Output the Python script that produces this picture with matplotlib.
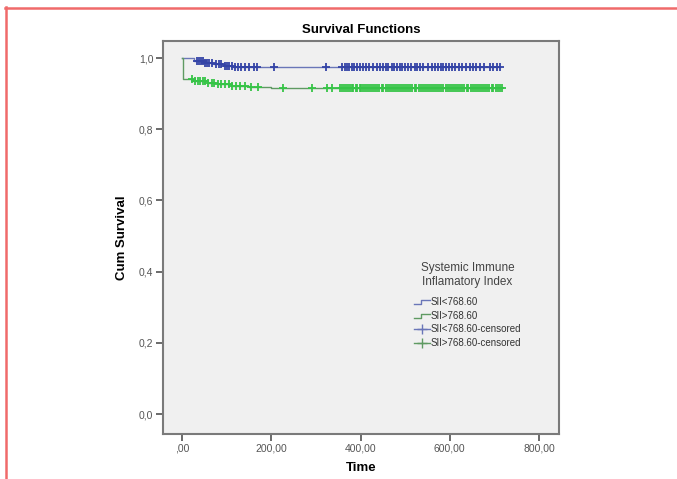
import numpy as np
import matplotlib
matplotlib.use('Agg')
import matplotlib.pyplot as plt
from matplotlib.lines import Line2D
from matplotlib.legend_handler import HandlerBase

plt.rcParams['font.family'] = ['Liberation Sans', 'DejaVu Sans']

# -------------------------- data --------------------------
# step curves (event time, cumulative survival after the event)
low_times = [0, 27, 50, 72, 95, 115]
low_surv = [1.0, 0.991, 0.987, 0.982, 0.979, 0.976]
high_times = [0, 2, 25, 55, 80, 110, 150, 200]
high_surv = [1.0, 0.941, 0.936, 0.931, 0.927, 0.922, 0.918, 0.915]
low_end = 712
high_end = 718

low_censored = [33, 38, 42, 47, 52, 56, 60, 66, 75, 82, 88, 95, 100, 106, 112, 118,
                125, 132, 140, 150, 160, 168, 205, 323,
                359, 364, 369, 374, 380, 386, 393, 399, 405, 412, 418, 428, 437, 444,
                450, 456, 462, 470, 476, 482, 488, 494, 500, 507, 514, 521, 527, 533,
                540, 552, 560, 566, 573, 580, 586, 592, 598, 606, 612, 620, 627, 636,
                645, 652, 660, 668, 676, 690, 698, 705, 712]
high_censored = [22, 28, 35, 40, 46, 52, 58, 66, 72, 80, 88, 95, 104, 112, 120, 130,
                 140, 155, 170, 227, 291, 325, 335,
                 355, 359, 363, 367, 371, 376, 380, 384, 389, 393, 398, 402, 406, 411,
                 415, 420, 424, 428, 433, 437, 442, 447, 451, 456, 461, 465, 470, 474,
                 479, 484, 488, 493, 497, 502, 507, 511, 516, 521, 525, 530, 535, 539,
                 544, 549, 553, 558, 563, 567, 572, 577, 581, 586, 591, 595, 600, 605,
                 609, 614, 619, 624, 628, 633, 638, 642, 647, 652, 656, 661, 666, 670,
                 675, 680, 684, 689, 694, 698, 703, 708, 713, 718]

x_ticks = [0, 200, 400, 600, 800]
x_tick_labels = [',00', '200,00', '400,00', '600,00', '800,00']
y_ticks = [0.0, 0.2, 0.4, 0.6, 0.8, 1.0]
y_tick_labels = ['0,0', '0,2', '0,4', '0,6', '0,8', '1,0']
legend_labels = ['SII<768.60', 'SII>768.60', 'SII<768.60-censored', 'SII>768.60-censored']
legend_title = 'Systemic Immune\nInflamatory Index'

BLUE_LINE = '#6a76b8'
BLUE_MARK = '#3444a6'
GREEN_LINE = '#5f9a62'
GREEN_MARK = '#36c447'


def _surv_at(times, surv, t):
    idx = np.searchsorted(np.array(times, dtype=float), np.array(t, dtype=float), side='right') - 1
    return np.array(surv)[idx]


class StepHandler(HandlerBase):
    """legend glyph drawn as a small step, like SPSS"""
    def __init__(self, color):
        super().__init__()
        self.color = color

    def create_artists(self, legend, orig_handle, xdescent, ydescent, width, height, fontsize, trans):
        x0, x1 = -xdescent, -xdescent + width
        xm = x0 + width * 0.45
        ylo = -ydescent + height * 0.2
        yhi = -ydescent + height * 0.75
        line = Line2D([x0, xm, xm, x1], [ylo, ylo, yhi, yhi], color=self.color, lw=1.0, transform=trans)
        return [line]


fig = plt.figure(figsize=(6.77, 4.79), dpi=100)
fig.patch.set_facecolor('white')

# red frame of the original page
fig.add_artist(Line2D([5 / 677, 1.0], [1 - 7.5 / 479, 1 - 7.5 / 479], color='#f06a6a', lw=1.8))
fig.add_artist(Line2D([6 / 677, 6 / 677], [0.0, 1 - 7 / 479], color='#f06a6a', lw=1.8))

ax = fig.add_axes([163 / 677, 1 - 434 / 479, 396 / 677, 393 / 479])
ax.set_facecolor('#f0f0f0')

# curves
ax.step(low_times + [low_end], low_surv + [low_surv[-1]], where='post', color=BLUE_LINE, lw=1.0)
ax.step(high_times + [high_end], high_surv + [high_surv[-1]], where='post', color=GREEN_LINE, lw=1.0)
ax.plot(low_censored, _surv_at(low_times, low_surv, low_censored), ls='none', marker='+',
        ms=6, mew=1.3, color=BLUE_MARK)
ax.plot(high_censored, _surv_at(high_times, high_surv, high_censored), ls='none', marker='+',
        ms=6, mew=1.3, color=GREEN_MARK)

ax.set_xlim(-43, 845)
ax.set_ylim(-0.056, 1.048)
ax.set_xticks(x_ticks)
ax.set_xticklabels(x_tick_labels)
ax.set_yticks(y_ticks)
ax.set_yticklabels(y_tick_labels)
ax.tick_params(direction='out', length=5, width=1.4, color='#6a6a6a', labelsize=7.5,
               labelcolor='#555555', pad=2)
for sp in ax.spines.values():
    sp.set_color('#7a7a7a')
    sp.set_linewidth(1.5)

ax.set_title('Survival Functions', fontsize=9.5, fontweight='bold', pad=6)
ax.set_xlabel('Time', fontsize=9.5, fontweight='bold', labelpad=6)
ax.set_ylabel('Cum Survival', fontsize=9.5, fontweight='bold', labelpad=8)

handles = [Line2D([], [], color=BLUE_LINE), Line2D([], [], color=GREEN_LINE),
           Line2D([], [], color=BLUE_LINE, marker='+', ms=7, mew=1.0, lw=1.0),
           Line2D([], [], color=GREEN_LINE, marker='+', ms=7, mew=1.0, lw=1.0)]
leg = ax.legend(handles, legend_labels, title=legend_title, loc='upper left',
                bbox_to_anchor=(0.612, 0.46), frameon=False, fontsize=7, title_fontsize=8.5,
                handlelength=1.6, handletextpad=0.1, labelspacing=0.36,
                handler_map={handles[0]: StepHandler(BLUE_LINE), handles[1]: StepHandler(GREEN_LINE)})
leg.get_title().set_color('#444444')
leg.get_title().set_multialignment('center')
leg.get_title().set_y(0)
leg._legend_handle_box.set_offset  # keep default packing
leg._legend_box.sep = 7
for t in leg.get_texts():
    t.set_color('#333333')

fig.savefig('out.png', dpi=100)
